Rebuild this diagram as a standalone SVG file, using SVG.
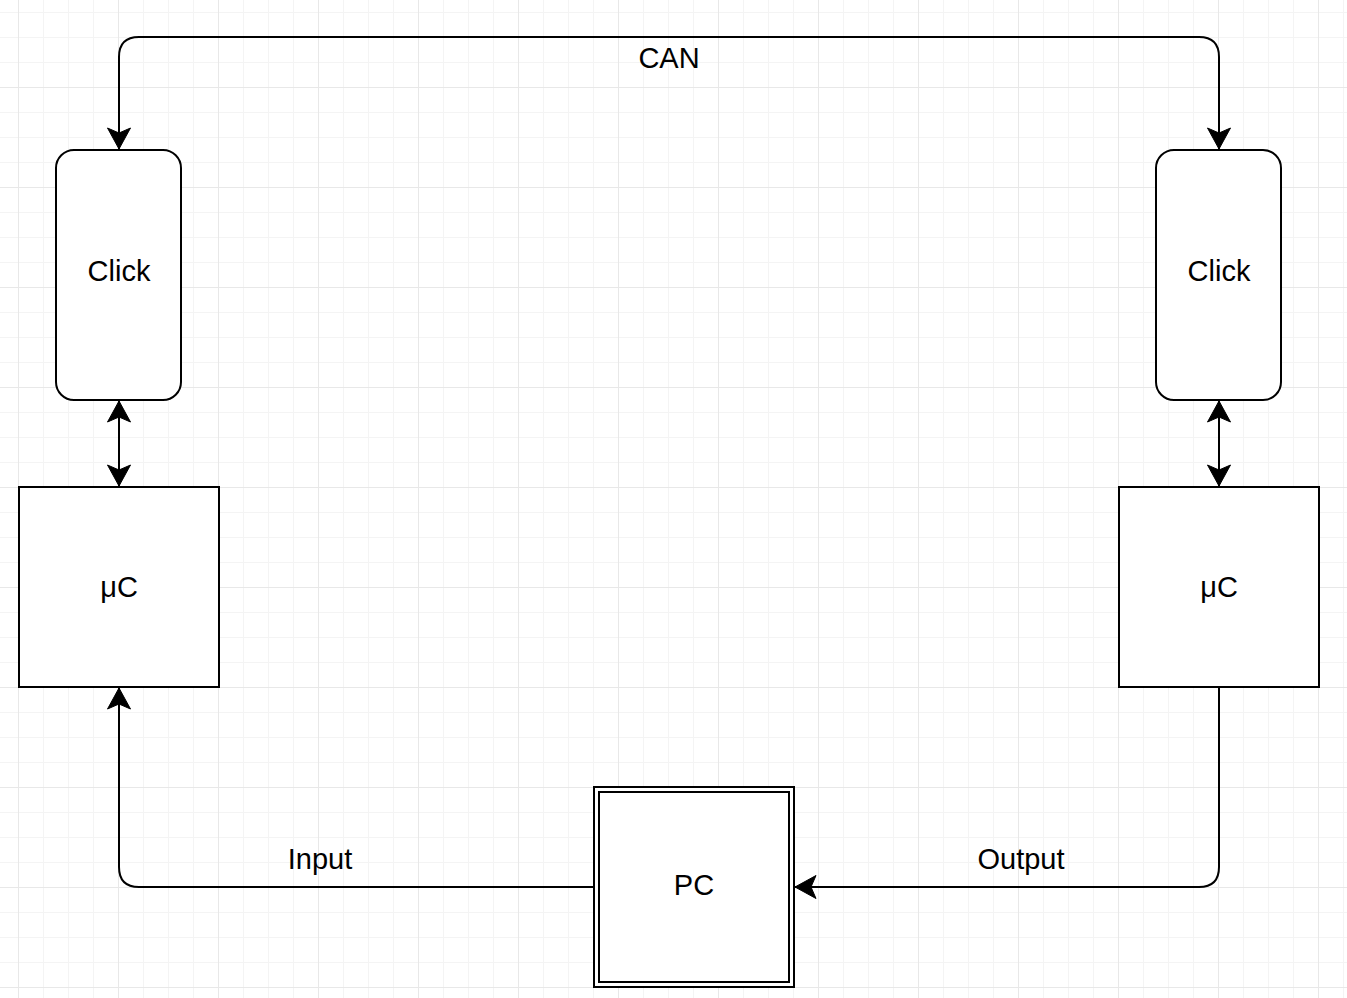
<svg xmlns="http://www.w3.org/2000/svg" width="1347" height="998" viewBox="0 0 1347 998">
  <defs>
    <pattern id="minor" x="18" y="12" width="25" height="25" patternUnits="userSpaceOnUse">
      <path d="M0.5,0 V25 M0,0.5 H25" fill="none" stroke="#f4f4f4" stroke-width="1"/>
    </pattern>
    <pattern id="major" x="18" y="87" width="100" height="100" patternUnits="userSpaceOnUse">
      <path d="M0.5,0 V100 M0,0.5 H100" fill="none" stroke="#e8e8e8" stroke-width="1"/>
    </pattern>
    <marker id="arrow" markerUnits="userSpaceOnUse" markerWidth="30" markerHeight="30" viewBox="-25 -15 30 30" refX="0" refY="0" orient="auto-start-reverse">
      <path d="M0,0 L-21,-11.5 L-16,0 L-21,11.5 Z" fill="#000" stroke="#000" stroke-width="1" stroke-linejoin="miter"/>
    </marker>
    <style>
      .box { fill: #ffffff; stroke: #000000; stroke-width: 2; }
      .edge { fill: none; stroke: #000000; stroke-width: 2; }
      .lbl { font-family: "Liberation Sans", Arial, Helvetica, sans-serif; font-size: 29px; fill: #000000; text-anchor: middle; }
    </style>
  </defs>

  <rect x="0" y="0" width="1347" height="998" fill="#ffffff"/>
  <rect x="0" y="0" width="1347" height="998" fill="url(#minor)"/>
  <rect x="0" y="0" width="1347" height="998" fill="url(#major)"/>

  <g id="connectors">
    <path class="edge" d="M119,149 V57 Q119,37 139,37 H1199 Q1219,37 1219,57 V149" marker-start="url(#arrow)" marker-end="url(#arrow)"/>
    <path class="edge" d="M119,401 V486" marker-start="url(#arrow)" marker-end="url(#arrow)"/>
    <path class="edge" d="M1219,401 V486" marker-start="url(#arrow)" marker-end="url(#arrow)"/>
    <path class="edge" d="M594,887 H139 Q119,887 119,867 V688" marker-end="url(#arrow)"/>
    <path class="edge" d="M1219,687 V867 Q1219,887 1199,887 H795" marker-end="url(#arrow)"/>
    <text class="lbl" x="669" y="68">CAN</text>
    <text class="lbl" x="320" y="869">Input</text>
    <text class="lbl" x="1021" y="869">Output</text>
  </g>

  <g id="click-left">
    <rect class="box" x="56" y="150" width="125" height="250" rx="18" ry="18"/>
    <text class="lbl" x="119" y="281">Click</text>
  </g>
  <g id="click-right">
    <rect class="box" x="1156" y="150" width="125" height="250" rx="18" ry="18"/>
    <text class="lbl" x="1219" y="281">Click</text>
  </g>
  <g id="uc-left">
    <rect class="box" x="19" y="487" width="200" height="200"/>
    <text class="lbl" x="119" y="597">μC</text>
  </g>
  <g id="uc-right">
    <rect class="box" x="1119" y="487" width="200" height="200"/>
    <text class="lbl" x="1219" y="597">μC</text>
  </g>
  <g id="pc">
    <rect class="box" x="594" y="787" width="200" height="200" stroke-width="2.5"/>
    <rect x="599" y="792" width="190" height="190" fill="none" stroke="#000" stroke-width="2"/>
    <text class="lbl" x="694" y="895">PC</text>
  </g>
</svg>
